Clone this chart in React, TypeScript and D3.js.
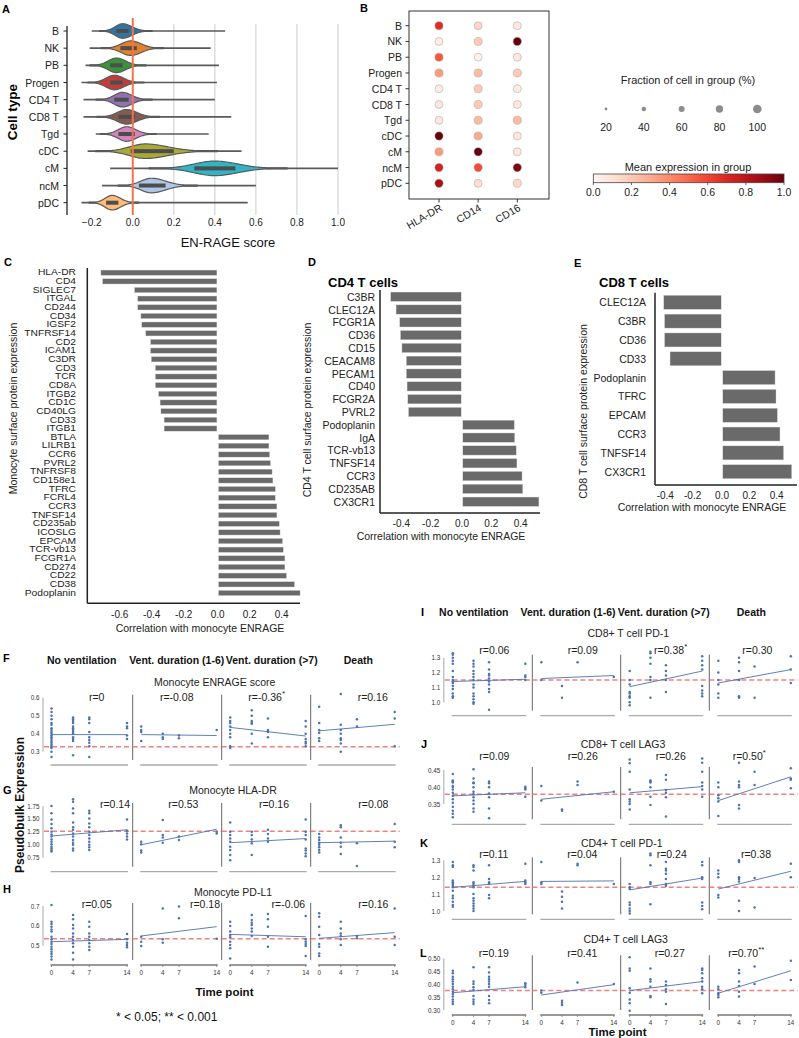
import React from 'react';
import * as d3 from 'd3';

const FONT = "'Liberation Sans', Arial, Helvetica, sans-serif";

// ---------------- Panel A: violins ----------------
const cellTypes = ['B', 'NK', 'PB', 'Progen', 'CD4 T', 'CD8 T', 'Tgd', 'cDC', 'cM', 'ncM', 'pDC'];
const violinColors = ['#3274a1', '#e1812c', '#3a923a', '#c03d3e', '#9372b2', '#845b53', '#d684bd', '#a9aa35', '#2eb6c6', '#aec7e8', '#ffbb78'];
const violinMin = [-0.2, -0.21, -0.23, -0.25, -0.24, -0.24, -0.18, -0.22, -0.11, -0.15, -0.25];
const violinMax = [0.45, 0.38, 0.42, 0.41, 0.4, 0.48, 0.37, 0.53, 1.0, 0.6, 0.56];
const violinMode = [-0.05, -0.01, -0.08, -0.09, -0.05, -0.03, -0.03, 0.06, 0.4, 0.09, -0.1];
const violinSdL = [0.035, 0.045, 0.04, 0.04, 0.04, 0.045, 0.04, 0.075, 0.1, 0.05, 0.035];
const violinSdR = [0.045, 0.05, 0.045, 0.045, 0.045, 0.05, 0.045, 0.11, 0.11, 0.07, 0.04];
const violinQ1 = [-0.08, -0.06, -0.11, -0.11, -0.09, -0.07, -0.07, -0.01, 0.3, 0.03, -0.13];
const violinQ3 = [-0.02, 0.02, -0.05, -0.05, -0.02, 0.01, 0.01, 0.2, 0.5, 0.16, -0.07];
const aTicks = [-0.2, 0.0, 0.2, 0.4, 0.6, 0.8, 1.0];
const aGrid = [0.2, 0.4, 0.6, 0.8, 1.0];

// ---------------- Panel B: dot plot ----------------
const dotGenes = ['HLA-DR', 'CD14', 'CD16'];
const dotExpr = [
  [0.68, 0.15, 0.08],
  [0.05, 0.2, 1.0],
  [0.55, 0.03, 0.08],
  [0.35, 0.25, 0.2],
  [0.05, 0.2, 0.05],
  [0.08, 0.2, 0.08],
  [0.08, 0.25, 0.25],
  [1.0, 0.3, 0.08],
  [0.35, 1.0, 0.08],
  [0.72, 0.58, 0.95],
  [0.85, 0.12, 0.15],
];
const dotFrac = [
  [92, 90, 90],
  [90, 92, 95],
  [92, 88, 90],
  [92, 92, 92],
  [90, 92, 90],
  [90, 92, 90],
  [90, 92, 92],
  [95, 92, 90],
  [92, 95, 90],
  [95, 95, 95],
  [95, 90, 92],
];
const fracLegend = [20, 40, 60, 80, 100];
const colorbarTicks = [0.0, 0.2, 0.4, 0.6, 0.8, 1.0];

// ---------------- Panel C ----------------
const cGenes = ['HLA-DR', 'CD4', 'SIGLEC7', 'ITGAL', 'CD244', 'CD34', 'IGSF2', 'TNFRSF14', 'CD2', 'ICAM1', 'C3DR', 'CD3', 'TCR', 'CD8A', 'ITGB2', 'CD1C', 'CD40LG', 'CD33', 'ITGB1', 'BTLA', 'LILRB1', 'CCR6', 'PVRL2', 'TNFRSF8', 'CD158e1', 'TFRC', 'FCRL4', 'CCR3', 'TNFSF14', 'CD235ab', 'ICOSLG', 'EPCAM', 'TCR-vb13', 'FCGR1A', 'CD274', 'CD22', 'CD38', 'Podoplanin'];
const cValues = [-0.73, -0.72, -0.52, -0.5, -0.5, -0.48, -0.475, -0.45, -0.42, -0.42, -0.415, -0.39, -0.39, -0.39, -0.37, -0.36, -0.355, -0.335, -0.335, 0.32, 0.32, 0.325, 0.33, 0.34, 0.345, 0.36, 0.36, 0.37, 0.37, 0.385, 0.39, 0.405, 0.41, 0.42, 0.42, 0.43, 0.48, 0.515];
const cTicks = [-0.6, -0.4, -0.2, 0.0, 0.2, 0.4];

// ---------------- Panel D ----------------
const dGenes = ['C3BR', 'CLEC12A', 'FCGR1A', 'CD36', 'CD15', 'CEACAM8', 'PECAM1', 'CD40', 'FCGR2A', 'PVRL2', 'Podoplanin', 'IgA', 'TCR-vb13', 'TNFSF14', 'CCR3', 'CD235AB', 'CX3CR1'];
const dValues = [-0.487, -0.45, -0.425, -0.42, -0.41, -0.38, -0.38, -0.375, -0.37, -0.365, 0.357, 0.36, 0.37, 0.375, 0.41, 0.415, 0.525];
const dTicks = [-0.4, -0.2, 0.0, 0.2, 0.4];

// ---------------- Panel E ----------------
const eGenes = ['CLEC12A', 'C3BR', 'CD36', 'CD33', 'Podoplanin', 'TFRC', 'EPCAM', 'CCR3', 'TNFSF14', 'CX3CR1'];
const eValues = [-0.426, -0.42, -0.42, -0.38, 0.388, 0.395, 0.405, 0.424, 0.45, 0.51];
const eTicks = [-0.4, -0.2, 0.0, 0.2, 0.4];

// ---------------- Scatter panels F-L ----------------
const timePoints = [0, 4, 7, 14];
const groups = ['No ventilation', 'Vent. duration (1-6)', 'Vent. duration (>7)', 'Death'];

const F_values = [
  [[0.54, 0.52, 0.5, 0.48, 0.46, 0.45, 0.43, 0.42, 0.41, 0.4, 0.39, 0.38, 0.37, 0.36, 0.35, 0.34, 0.33, 0.32, 0.3, 0.27], [0.49, 0.48, 0.47, 0.46, 0.44, 0.43, 0.42, 0.41, 0.4, 0.38, 0.37, 0.36, 0.28], [0.49, 0.48, 0.46, 0.41, 0.38, 0.365, 0.35, 0.33, 0.27], [0.46, 0.44, 0.43, 0.39, 0.37]],
  [[0.44, 0.42, 0.41, 0.36], [0.4, 0.38, 0.37], [0.39, 0.375], [0.42]],
  [[0.49, 0.47, 0.46, 0.44, 0.42, 0.4, 0.38, 0.33, 0.32], [0.53, 0.5, 0.47, 0.46, 0.455, 0.4, 0.345], [0.485, 0.42, 0.41, 0.38], [0.47, 0.44, 0.4, 0.37, 0.355, 0.345, 0.33]],
  [[0.55, 0.46, 0.42, 0.405, 0.375, 0.36], [0.62, 0.45, 0.42, 0.4, 0.375, 0.365, 0.345, 0.3], [0.48, 0.44], [0.52, 0.485, 0.33]],
];
const F_fits = [[0.395, 0.395], [0.395, 0.39], [0.435, 0.387], [0.416, 0.452]];
const F_r = ['r=0', 'r=-0.08', 'r=-0.36', 'r=0.16'];
const F_stars = ['', '', '*', ''];

const G_values = [
  [[1.75, 1.61, 1.49, 1.4, 1.32, 1.25, 1.2, 1.16, 1.1, 1.06, 1.01, 0.96, 0.93, 0.9, 0.87], [1.88, 1.83, 1.7, 1.61, 1.43, 1.34, 1.29, 1.22, 1.16, 1.09, 1.04, 1.0, 0.93, 0.89], [1.66, 1.61, 1.51, 1.41, 1.34, 1.25, 1.19, 1.12, 1.06, 1.0, 0.95, 0.9], [1.49, 1.27, 1.22, 1.16, 1.1]],
  [[1.06, 1.01, 0.89, 0.85], [1.48, 1.19, 1.14, 1.04], [1.16, 1.09], [1.25, 1.22]],
  [[1.43, 1.25, 1.19, 1.12, 1.06, 0.96, 0.9, 0.8, 0.7], [1.25, 1.19, 1.1, 1.03, 0.8], [1.29, 1.21, 1.12, 1.06], [1.49, 1.25, 1.19, 1.1, 0.93, 0.89, 0.83, 0.78]],
  [[1.21, 1.14, 1.09, 1.04, 1.0, 0.95, 0.9, 0.85], [1.38, 1.34, 1.14, 1.04, 0.96, 0.82], [1.03, 0.59], [1.4, 1.06, 0.95]],
];
const G_fits = [[1.17, 1.29], [1.0, 1.3], [1.04, 1.12], [1.04, 1.07]];
const G_r = ['r=0.14', 'r=0.53', 'r=0.16', 'r=0.08'];
const G_stars = ['', '', '', ''];

const H_values = [
  [[0.705, 0.621, 0.609, 0.596, 0.582, 0.571, 0.545, 0.532, 0.52, 0.508, 0.495, 0.482, 0.47, 0.458, 0.445, 0.431], [0.655, 0.633, 0.604, 0.587, 0.562, 0.545, 0.529, 0.512, 0.495, 0.465, 0.431], [0.621, 0.596, 0.562, 0.545, 0.529, 0.512, 0.495, 0.478], [0.559, 0.532, 0.515, 0.503, 0.492]],
  [[0.545, 0.52, 0.498], [0.688, 0.532, 0.515], [0.697, 0.638], [0.535]],
  [[0.621, 0.599, 0.571, 0.554, 0.542, 0.52, 0.503, 0.487, 0.436], [0.655, 0.629, 0.616, 0.604, 0.587, 0.571, 0.549], [0.66, 0.633, 0.596, 0.545, 0.495], [0.65, 0.532, 0.52, 0.508, 0.498, 0.448]],
  [[0.663, 0.646, 0.596, 0.554, 0.508, 0.495, 0.461, 0.448], [0.621, 0.587, 0.562, 0.549, 0.532, 0.503], [0.549, 0.537], [0.688, 0.545, 0.503]],
];
const H_fits = [[0.52, 0.532], [0.549, 0.596], [0.557, 0.545], [0.537, 0.566]];
const H_r = ['r=0.05', 'r=0.18', 'r=-0.06', 'r=0.16'];
const H_stars = ['', '', '', ''];

const I_values = [
  [[1.33, 1.32, 1.3, 1.28, 1.26, 1.21, 1.17, 1.15, 1.14, 1.13, 1.11, 1.09, 1.06, 1.04, 1.03], [1.28, 1.26, 1.24, 1.21, 1.19, 1.17, 1.15, 1.12, 1.1, 1.06, 1.04, 1.02, 1.0, 0.99], [1.27, 1.22, 1.19, 1.18, 1.16, 1.14, 1.12, 1.09, 1.07, 0.95], [1.26, 1.18, 1.17, 1.15]],
  [[1.27, 1.15], [1.11, 1.03], [1.27], [1.17]],
  [[1.21, 1.15, 1.12, 1.07, 1.06, 1.04, 1.03, 1.0, 0.98], [1.34, 1.33, 1.3, 1.26, 1.17, 1.15, 1.03], [1.25, 1.21, 1.18, 1.15, 1.07], [1.31, 1.28, 1.25, 1.22, 1.11, 1.08, 1.06, 1.04]],
  [[1.28, 1.2, 1.15, 1.12, 1.06, 1.03], [1.3, 1.27, 1.21, 1.15, 1.04, 1.03], [1.24, 1.03], [1.31, 1.22, 1.13]],
];
const I_fits = [[1.14, 1.155], [1.16, 1.18], [1.105, 1.21], [1.13, 1.22]];
const I_r = ['r=0.06', 'r=0.09', 'r=0.38', 'r=0.30'];
const I_stars = ['', '', '*', ''];

const J_values = [
  [[0.438, 0.419, 0.413, 0.4, 0.416, 0.403, 0.393, 0.383, 0.374, 0.364, 0.354, 0.342, 0.33, 0.321, 0.311], [0.452, 0.425, 0.413, 0.399, 0.411, 0.386, 0.379, 0.37, 0.36, 0.35, 0.337, 0.327], [0.416, 0.411, 0.399, 0.381, 0.37, 0.337, 0.308], [0.396, 0.401, 0.393, 0.371]],
  [[0.403, 0.36], [0.334, 0.33], [0.416, 0.406], [0.386]],
  [[0.481, 0.47, 0.445, 0.393, 0.364, 0.357, 0.35, 0.334], [0.419, 0.413, 0.416, 0.399, 0.371, 0.347], [0.435, 0.421, 0.391, 0.383, 0.37, 0.313], [0.484, 0.471, 0.445, 0.413, 0.403, 0.393, 0.371]],
  [[0.413, 0.399, 0.376, 0.367, 0.357, 0.315], [0.471, 0.416, 0.406, 0.399, 0.347, 0.337], [0.445, 0.406], [0.455, 0.425, 0.421, 0.396]],
];
const J_fits = [[0.374, 0.383], [0.364, 0.386], [0.383, 0.401], [0.36, 0.43]];
const J_r = ['r=0.09', 'r=0.26', 'r=0.26', 'r=0.50'];
const J_stars = ['', '', '', '*'];

const K_values = [
  [[1.29, 1.27, 1.26, 1.18, 1.17, 1.16, 1.15, 1.14, 1.12, 1.09, 1.075, 1.055, 1.035, 1.025], [1.27, 1.26, 1.24, 1.17, 1.16, 1.15, 1.14, 1.1, 1.075, 1.06, 1.045, 1.03, 1.015, 1.0], [1.27, 1.19, 1.17, 1.16, 1.095, 1.075], [1.28, 1.18, 1.17, 1.16]],
  [[1.29, 1.17, 1.16], [1.115, 1.085, 1.055, 1.015], [1.28, 1.27], [1.16]],
  [[1.16, 1.14, 1.13, 1.05, 1.035, 1.015, 1.0, 0.985], [1.34, 1.33, 1.27, 1.17, 1.16, 1.04], [1.29, 1.25, 1.24, 1.22, 1.19, 1.16, 1.15], [1.29, 1.27, 1.2, 1.19, 1.05, 1.03, 1.01]],
  [[1.24, 1.22, 1.2, 1.095, 1.08], [1.3, 1.29, 1.2, 1.19, 1.175, 1.06, 1.0], [1.195, 1.02], [1.28, 1.2]],
];
const K_fits = [[1.14, 1.175], [1.175, 1.178], [1.125, 1.195], [1.13, 1.235]];
const K_r = ['r=0.11', 'r=0.04', 'r=0.24', 'r=0.38'];
const K_stars = ['', '', '', ''];

const L_values = [
  [[0.452, 0.442, 0.429, 0.419, 0.41, 0.401, 0.39, 0.38, 0.371, 0.362, 0.352, 0.341, 0.332, 0.323], [0.465, 0.41, 0.401, 0.388, 0.377, 0.354, 0.341, 0.332, 0.323], [0.465, 0.445, 0.429, 0.419, 0.41, 0.401, 0.39, 0.354, 0.339, 0.326], [0.403, 0.397, 0.388]],
  [[0.375, 0.367], [0.336, 0.328, 0.319], [0.406], [0.401]],
  [[0.504, 0.461, 0.452, 0.384, 0.367, 0.341, 0.326, 0.297], [0.461, 0.419, 0.41, 0.39, 0.354, 0.349], [0.41, 0.397, 0.38, 0.371, 0.323], [0.461, 0.455, 0.442, 0.423, 0.41, 0.39, 0.38, 0.365]],
  [[0.39, 0.38, 0.365, 0.358, 0.349], [0.455, 0.442, 0.41, 0.393, 0.371, 0.352], [0.468, 0.401], [0.491, 0.416]],
];
const L_fits = [[0.367, 0.39], [0.358, 0.398], [0.375, 0.41], [0.365, 0.452]];
const L_r = ['r=0.19', 'r=0.41', 'r=0.27', 'r=0.70'];
const L_stars = ['', '', '', '**'];

// ---------------- layout ----------------
const leftLayout = { x0s: [43, 132.7, 221.7, 310.7], off: 8.5, span: 75.5, stride: 89, headerY: 660, headerX: [81.7, 176.7, 271.7, 358.3] };
const rightLayout = { x0s: [443.8, 532.3, 620.7, 709.3], off: 9, span: 72.5, stride: 88.5, headerY: 611.7, headerX: [473.8, 568, 663.7, 751.3] };

const leftRows = [
  { letter: 'F', letterX: 3, letterY: 658, title: 'Monocyte ENRAGE score', titleX: 214.7, titleY: 681.7, rY: 697.3, ticks: [0.3, 0.4, 0.5, 0.6], fmt: '.1f', topVal: 0.6, topPx: 697.7, botVal: 0.3, botPx: 751.7, bottomY: 765, threshold: 0.328, values: F_values, fits: F_fits, rs: F_r, stars: F_stars, rOff: [53.7, 44, 45, 62], timeAxis: false },
  { letter: 'G', letterX: 3, letterY: 790, title: 'Monocyte HLA-DR', titleX: 233, titleY: 790, rY: 804, ticks: [0.75, 1.0, 1.25, 1.5, 1.75], fmt: '.2f', topVal: 1.75, topPx: 806, botVal: 0.75, botPx: 857.7, bottomY: 871.7, threshold: 1.26, values: G_values, fits: G_fits, rs: G_r, stars: G_stars, rOff: [72, 50.6, 52.3, 62.6], timeAxis: false },
  { letter: 'H', letterX: 3, letterY: 889, title: 'Monocyte PD-L1', titleX: 233, titleY: 891.7, rY: 904, ticks: [0.5, 0.6, 0.7], fmt: '.1f', topVal: 0.7, topPx: 906, botVal: 0.5, botPx: 945.7, bottomY: 965, threshold: 0.535, values: H_values, fits: H_fits, rs: H_r, stars: H_stars, rOff: [53.7, 72.3, 66.6, 62.6], timeAxis: true },
];
const rightRows = [
  { letter: 'I', letterX: 421, letterY: 611.7, title: 'CD8+ T cell PD-1', titleX: 628.3, titleY: 632.7, rY: 650, ticks: [1.0, 1.1, 1.2, 1.3], fmt: '.1f', topVal: 1.3, topPx: 657.7, botVal: 1.0, botPx: 702.3, bottomY: 715.7, threshold: 1.15, values: I_values, fits: I_fits, rs: I_r, stars: I_stars, rOff: [50.5, 50.4, 50, 48], timeAxis: false },
  { letter: 'J', letterX: 421, letterY: 744, title: 'CD8+ T cell LAG3', titleX: 623, titleY: 744, rY: 755.7, ticks: [0.35, 0.4, 0.45], fmt: '.2f', topVal: 0.45, topPx: 770, botVal: 0.35, botPx: 804, bottomY: 824.3, threshold: 0.379, values: J_values, fits: J_fits, rs: J_r, stars: J_stars, rOff: [50.5, 50.4, 50, 40], timeAxis: false },
  { letter: 'K', letterX: 420, letterY: 843.3, title: 'CD4+ T cell PD-1', titleX: 621.7, titleY: 843.3, rY: 854, ticks: [1.0, 1.1, 1.2, 1.3], fmt: '.1f', topVal: 1.3, topPx: 860.3, botVal: 1.0, botPx: 911, bottomY: 919.3, threshold: 1.14, values: K_values, fits: K_fits, rs: K_r, stars: K_stars, rOff: [50, 50, 51, 46.7], timeAxis: false },
  { letter: 'L', letterX: 420, letterY: 953.3, title: 'CD4+ T cell LAG3', titleX: 625.7, titleY: 939.3, rY: 953.3, ticks: [0.3, 0.35, 0.4, 0.45, 0.5], fmt: '.2f', topVal: 0.5, topPx: 958.3, botVal: 0.3, botPx: 1010, bottomY: 1015, threshold: 0.375, values: L_values, fits: L_fits, rs: L_r, stars: L_stars, rOff: [50, 50, 49, 37], timeAxis: true },
];

const hyph = (v: number, f: string) => d3.format(f)(v).replace('\u2212', '-');

function PanelA() {
  const x = d3.scaleLinear().domain([-0.2, 1.0]).range([91.7, 338]);
  const y = d3.scalePoint().domain(cellTypes).range([31, 202.7]);
  const W = 7.3;
  return (
    <g>
      <text x={2} y={9} fontSize={11} fontWeight="bold" dominantBaseline="central">A</text>
      {aGrid.map((g) => (
        <line key={g} x1={x(g)} x2={x(g)} y1={24} y2={215} stroke="#cccccc" strokeWidth={1} />
      ))}
      <line x1={67} x2={67} y1={26} y2={215} stroke="#222" strokeWidth={1.3} />
      {cellTypes.map((c, i) => {
        const cy = y(c) as number;
        const mu = violinMode[i];
        const lo = Math.max(violinMin[i], mu - 3.2 * violinSdL[i]);
        const hi = Math.min(violinMax[i], mu + 3.2 * violinSdR[i]);
        const pts = d3.range(81).map((k) => {
          const v = lo + ((hi - lo) * k) / 80;
          const s = v < mu ? violinSdL[i] : violinSdR[i];
          const w = Math.max(0.5, W * Math.exp(-0.5 * ((v - mu) / s) ** 2));
          return { v, w };
        });
        const area = d3.area<{ v: number; w: number }>()
          .x((d) => x(d.v))
          .y0((d) => cy - d.w)
          .y1((d) => cy + d.w)
          .curve(d3.curveBasis);
        return (
          <g key={c}>
            <line x1={63.5} x2={67} y1={cy} y2={cy} stroke="#222" strokeWidth={1} />
            <text x={59} y={cy} fontSize={10.5} textAnchor="end" dominantBaseline="central" fill="#222">{c}</text>
            <line x1={x(violinMin[i])} x2={x(violinMax[i])} y1={cy} y2={cy} stroke="#5a5a5a" strokeWidth={1.7} />
            <path d={area(pts) || ''} fill={violinColors[i]} stroke="#5a5a5a" strokeWidth={1.2} />
            <rect x={x(violinQ1[i])} y={cy - 2} width={x(violinQ3[i]) - x(violinQ1[i])} height={4} fill="#4d4d4d" />
          </g>
        );
      })}
      <line x1={x(0)} x2={x(0)} y1={18} y2={215} stroke="#f0734f" strokeWidth={2} />
      {aTicks.map((t) => (
        <text key={t} x={x(t)} y={222} fontSize={10} textAnchor="middle" dominantBaseline="central" fill="#222">{d3.format('.1f')(t)}</text>
      ))}
      <text x={228} y={242} fontSize={13} textAnchor="middle" dominantBaseline="central" fill="#111">EN-RAGE score</text>
      <text transform="translate(12,112) rotate(-90)" fontSize={13.5} fontWeight="bold" textAnchor="middle" dominantBaseline="central">Cell type</text>
    </g>
  );
}

function PanelB() {
  const bx = d3.scalePoint().domain(dotGenes).range([439, 517.3]);
  const by = d3.scalePoint().domain(cellTypes).range([25.7, 183.3]);
  const color = d3.scaleSequential(d3.interpolateReds).domain([0, 1]);
  const r = (f: number) => 4.3 * Math.pow(f / 100, 0.7);
  const lx = d3.scalePoint().domain(fracLegend.map(String)).range([606, 757.3]);
  const cb = d3.scaleLinear().domain([0, 1]).range([593.3, 784]);
  const stops = d3.range(11).map((k) => k / 10);
  return (
    <g>
      <defs>
        <linearGradient id="redsGrad" x1="0" x2="1" y1="0" y2="0">
          {stops.map((s) => (
            <stop key={s} offset={`${s * 100}%`} stopColor={d3.interpolateReds(s)} />
          ))}
        </linearGradient>
      </defs>
      <text x={360} y={8} fontSize={11} fontWeight="bold" dominantBaseline="central">B</text>
      <rect x={409} y={11} width={140} height={188} fill="none" stroke="#333" strokeWidth={1} />
      {cellTypes.map((c, i) => (
        <g key={c}>
          <line x1={405.5} x2={409} y1={by(c)} y2={by(c)} stroke="#333" strokeWidth={1} />
          <text x={402} y={by(c)} fontSize={10.5} textAnchor="end" dominantBaseline="central" fill="#222">{c}</text>
          {dotGenes.map((g, j) => (
            <circle key={g} cx={bx(g)} cy={by(c)} r={r(dotFrac[i][j])} fill={color(dotExpr[i][j])} stroke="#a0a0a0" strokeWidth={0.5} />
          ))}
        </g>
      ))}
      {dotGenes.map((g) => (
        <g key={g}>
          <line x1={bx(g)} x2={bx(g)} y1={199} y2={202.5} stroke="#333" strokeWidth={1} />
          <text transform={`translate(${(bx(g) as number) + 4},${210}) rotate(-30)`} fontSize={10.5} textAnchor="end" fill="#222">{g}</text>
        </g>
      ))}
      <text x={688} y={80} fontSize={11} textAnchor="middle" dominantBaseline="central" fill="#222">Fraction of cell in group (%)</text>
      {fracLegend.map((f) => (
        <g key={f}>
          <circle cx={lx(String(f))} cy={109} r={r(f)} fill="#8c8c8c" />
          <text x={lx(String(f))} y={127} fontSize={10.5} textAnchor="middle" dominantBaseline="central" fill="#222">{f}</text>
        </g>
      ))}
      <text x={688} y={166.5} fontSize={11} textAnchor="middle" dominantBaseline="central" fill="#222">Mean expression in group</text>
      <rect x={cb(0)} y={174} width={cb(1) - cb(0)} height={8.7} fill="url(#redsGrad)" stroke="#444" strokeWidth={0.8} />
      {colorbarTicks.map((t) => (
        <g key={t}>
          <line x1={cb(t)} x2={cb(t)} y1={182.7} y2={185} stroke="#444" strokeWidth={0.8} />
          <text x={cb(t)} y={192} fontSize={10.5} textAnchor="middle" dominantBaseline="central" fill="#222">{d3.format('.1f')(t)}</text>
        </g>
      ))}
    </g>
  );
}

type BarProps = {
  genes: string[]; values: number[]; ticks: number[];
  x: d3.ScaleLinear<number, number>; yTop: number; yBot: number; barH: number;
  axisX: number; axisTop: number; axisBottom: number; axisRight: number;
  labelX: number; labelSize: number; labelStretch: number; tickY: number; titleY: number; titleX: number;
  yTitle: string; yTitleX: number; yTitleY: number;
};

function BarPanel(p: BarProps) {
  const y = d3.scalePoint().domain(p.genes).range([p.yTop, p.yBot]);
  const z = p.x(0);
  return (
    <g>
      {p.genes.map((g, i) => {
        const v = p.values[i];
        const x1 = v < 0 ? p.x(v) : z + 0.8;
        const x2 = v < 0 ? z - 0.8 : p.x(v);
        const cy = y(g) as number;
        return (
          <g key={g}>
            <rect x={x1} y={cy - p.barH / 2} width={x2 - x1} height={p.barH} fill="#6a6a6a" stroke="#d8d8d8" strokeWidth={0.4} />
            <text transform={`translate(${p.labelX},${cy}) scale(${p.labelStretch},1)`} fontSize={p.labelSize} textAnchor="end" dominantBaseline="central" fill="#222">{g}</text>
          </g>
        );
      })}
      <line x1={p.axisX} x2={p.axisX} y1={p.axisTop} y2={p.axisBottom} stroke="#222" strokeWidth={1.5} />
      <line x1={p.axisX} x2={p.axisRight} y1={p.axisBottom} y2={p.axisBottom} stroke="#222" strokeWidth={1.5} />
      {p.ticks.map((t) => (
        <text key={t} x={p.x(t) - (t < 0 ? 2 : 0)} y={p.tickY} fontSize={10} textAnchor="middle" dominantBaseline="central" fill="#222">{hyph(t, '.1f')}</text>
      ))}
      <text x={p.titleX} y={p.titleY} fontSize={10.5} textAnchor="middle" dominantBaseline="central" fill="#222">Correlation with monocyte ENRAGE</text>
      <text transform={`translate(${p.yTitleX},${p.yTitleY}) rotate(-90)`} fontSize={10.5} textAnchor="middle" dominantBaseline="central" fill="#222">{p.yTitle}</text>
    </g>
  );
}

function ScatterRow({ s, layout }: { s: any; layout: any }) {
  const y = d3.scaleLinear().domain([s.botVal, s.topVal]).range([s.botPx, s.topPx]);
  const fmt = d3.format(s.fmt);
  const blue = '#4c72b0';
  return (
    <g>
      <text x={s.letterX} y={s.letterY} fontSize={11} fontWeight="bold" dominantBaseline="central">{s.letter}</text>
      <text x={s.titleX} y={s.titleY} fontSize={10.5} textAnchor="middle" dominantBaseline="central" fill="#222">{s.title}</text>
      {layout.x0s.map((x0: number, p: number) => {
        const tx = d3.scaleLinear().domain([0, 14]).range([x0 + layout.off, x0 + layout.off + layout.span]);
        const fit = s.fits[p];
        return (
          <g key={p}>
            {p === 0 ? (
              <g>
                <line x1={x0} x2={x0} y1={s.topPx} y2={s.botPx} stroke="#b5b5b5" strokeWidth={1.2} />
                {s.ticks.map((t: number) => (
                  <text key={t} x={x0 - 3.5} y={y(t)} fontSize={6.3} textAnchor="end" dominantBaseline="central" fill="#333">{fmt(t)}</text>
                ))}
              </g>
            ) : (
              <line x1={x0} x2={x0} y1={s.topPx - 3} y2={s.bottomY - 5} stroke="#666" strokeWidth={1} />
            )}
            <line x1={p === 0 ? x0 + 1 : x0} x2={x0 + layout.stride} y1={y(s.threshold)} y2={y(s.threshold)} stroke="#ef6b6b" strokeOpacity={0.85} strokeWidth={1.5} strokeDasharray="5,3" />
            {timePoints.map((t, ti) => (
              <g key={t}>
                {s.values[p][ti].map((v: number, k: number) => (
                  <circle key={k} cx={tx(t)} cy={y(v)} r={1.25} fill={blue} />
                ))}
              </g>
            ))}
            <line x1={tx(0)} x2={tx(14)} y1={y(fit[0])} y2={y(fit[1])} stroke={blue} strokeWidth={0.9} />
            <line x1={tx(0) - 1} x2={tx(14) + 1} y1={s.bottomY} y2={s.bottomY} stroke={s.timeAxis ? '#777' : '#aaa'} strokeWidth={1.3} />
            {s.timeAxis && timePoints.map((t) => (
              <g key={t}>
                <line x1={tx(t)} x2={tx(t)} y1={s.bottomY} y2={s.bottomY + 2} stroke="#777" strokeWidth={0.8} />
                <text x={tx(t)} y={s.bottomY + 7.5} fontSize={6.3} textAnchor="middle" dominantBaseline="central" fill="#333">{t}</text>
              </g>
            ))}
            <text x={x0 + s.rOff[p]} y={s.rY} fontSize={10.5} textAnchor="middle" dominantBaseline="central" fill="#222">
              {s.rs[p]}
              {s.stars[p] ? <tspan fontSize={8} dy={-4}>{s.stars[p]}</tspan> : null}
            </text>
          </g>
        );
      })}
    </g>
  );
}

function Headers({ layout }: { layout: any }) {
  return (
    <g>
      {groups.map((g, i) => (
        <text key={g} x={layout.headerX[i]} y={layout.headerY} fontSize={10.5} fontWeight="bold" textAnchor="middle" dominantBaseline="central" fill="#111">{g}</text>
      ))}
    </g>
  );
}

export default function App() {
  const cx = d3.scaleLinear().domain([-0.6, 0.4]).range([121.7, 281.7]);
  const dx = d3.scaleLinear().domain([-0.4, 0.4]).range([403.4, 520.6]);
  const ex = d3.scaleLinear().domain([-0.4, 0.4]).range([667.3, 776.7]);
  return (
    <svg width={799} height={1038} style={{ position: 'absolute', left: 0, top: 0, background: '#fff' }} fontFamily={FONT}>
      <rect x={0} y={0} width={799} height={1038} fill="#fff" />
      <PanelA />
      <PanelB />

      <text x={4} y={261.7} fontSize={11} fontWeight="bold" dominantBaseline="central">C</text>
      <BarPanel genes={cGenes} values={cValues} ticks={cTicks} x={cx} yTop={272.7} yBot={593} barH={5.3}
        axisX={87.3} axisTop={268} axisBottom={603.3} axisRight={300} labelX={76} labelSize={8.2} labelStretch={1.25}
        tickY={614} titleY={627.5} titleX={200} yTitle="Monocyte surface protein expression" yTitleX={13} yTitleY={408.5} />

      <text x={308} y={262} fontSize={11} fontWeight="bold" dominantBaseline="central">D</text>
      <text x={328} y={282} fontSize={13} fontWeight="bold" dominantBaseline="central">CD4 T cells</text>
      <BarPanel genes={dGenes} values={dValues} ticks={dTicks} x={dx} yTop={296.7} yBot={501.7} barH={9.3}
        axisX={380} axisTop={290} axisBottom={513} axisRight={540} labelX={375} labelSize={10.5} labelStretch={1}
        tickY={523} titleY={536} titleX={441} yTitle="CD4 T cell surface protein expression" yTitleX={307} yTitleY={410} />

      <text x={574} y={263} fontSize={11} fontWeight="bold" dominantBaseline="central">E</text>
      <text x={599} y={282} fontSize={13} fontWeight="bold" dominantBaseline="central">CD8 T cells</text>
      <BarPanel genes={eGenes} values={eValues} ticks={eTicks} x={ex} yTop={302.3} yBot={471.7} barH={14}
        axisX={655} axisTop={292.7} axisBottom={485} axisRight={797} labelX={646} labelSize={10.5} labelStretch={1}
        tickY={495} titleY={506.7} titleX={702} yTitle="CD8 T cell surface protein expression" yTitleX={583} yTitleY={411.5} />

      <Headers layout={leftLayout} />
      {leftRows.map((s) => (
        <ScatterRow key={s.letter} s={s} layout={leftLayout} />
      ))}
      <text transform="translate(20,805) rotate(-90)" fontSize={12} fontWeight="bold" textAnchor="middle" dominantBaseline="central" fill="#111">Pseudobulk Expression</text>
      <text x={224.5} y={991.7} fontSize={11.5} fontWeight="bold" textAnchor="middle" dominantBaseline="central" fill="#111">Time point</text>
      <text x={166.7} y={1017} fontSize={12} textAnchor="middle" dominantBaseline="central" fill="#111">* &lt; 0.05; ** &lt; 0.001</text>

      <Headers layout={rightLayout} />
      {rightRows.map((s) => (
        <ScatterRow key={s.letter} s={s} layout={rightLayout} />
      ))}
      <text x={617.5} y={1031.7} fontSize={11.5} fontWeight="bold" textAnchor="middle" dominantBaseline="central" fill="#111">Time point</text>
    </svg>
  );
}
